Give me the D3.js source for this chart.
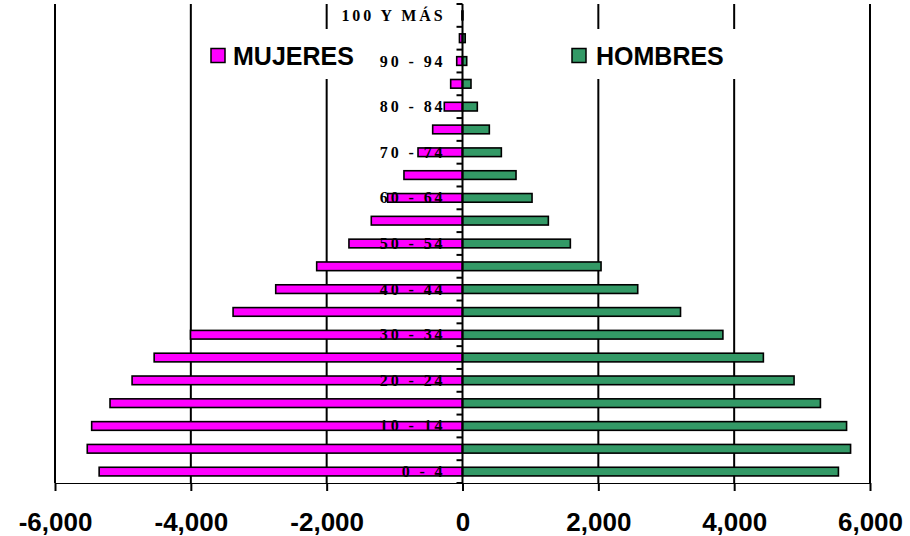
<!DOCTYPE html>
<html>
<head>
<meta charset="utf-8">
<script src="https://cdn.jsdelivr.net/npm/d3@7"></script>
<style>
  html, body { margin: 0; padding: 0; background: #fff; }
  svg { display: block; }
</style>
</head>
<body>
<svg id="chart" width="910" height="536"></svg>
<script>
// ---- data ----
const categories = ["0 - 4","5 - 9","10 - 14","15 - 19","20 - 24","25 - 29","30 - 34","35 - 39",
  "40 - 44","45 - 49","50 - 54","55 - 59","60 - 64","65 - 69","70 - 74","75 - 79","80 - 84",
  "85 - 89","90 - 94","95 - 99","100 Y MÁS"];
const mujeres = [5350, 5525, 5460, 5190, 4865, 4540, 4005, 3378, 2750, 2147, 1672, 1343, 1102,
  862, 655, 439, 268, 174, 85, 45, 8];
const hombres = [5535, 5714, 5655, 5270, 4882, 4430, 3834, 3210, 2580, 2040, 1588, 1264, 1024,
  788, 572, 395, 218, 125, 62, 40, 5];
const shownLabels = ["0 - 4","10 - 14","20 - 24","30 - 34","40 - 44","50 - 54","60 - 64",
  "70 - 74","80 - 84","90 - 94","100 Y MÁS"];
const xTicks = [-6000, -4000, -2000, 0, 2000, 4000, 6000];
const seriesNames = ["MUJERES", "HOMBRES"];
const seriesColors = ["#FF00FF", "#339966"];

// ---- layout ----
const svg = d3.select("#chart");
const pLeft = 55, pRight = 870, pTop = 4, pBottom = 483;

const x = d3.scaleLinear().domain([-6000, 6000]).range([pLeft, pRight]);
const y = d3.scaleBand().domain(categories.slice().reverse()).range([pTop, pBottom]).paddingInner(0.62).paddingOuter(0.31);
const yb = d3.scaleBand().domain(categories.slice().reverse()).range([pTop, pBottom]);

const fmt = d3.formatLocale({decimal: ".", thousands: ",", grouping: [3], currency: ["", ""], minus: "-"}).format(",");

// gridlines (vertical)
svg.append("g").selectAll("line").data(xTicks.filter(d => d !== 0)).join("line")
  .attr("x1", d => x(d)).attr("x2", d => x(d))
  .attr("y1", pTop).attr("y2", pBottom)
  .attr("stroke", "#000").attr("stroke-width", 2);

// legend white boxes (cover gridlines)
const legendBoxes = [
  {name: seriesNames[0], color: seriesColors[0], x0: 200, x1: 362, sx: 211, tx: 233},
  {name: seriesNames[1], color: seriesColors[1], x0: 565, x1: 742, sx: 572, tx: 596}
];
svg.append("g").selectAll("rect").data(legendBoxes).join("rect")
  .attr("x", d => d.x0).attr("y", 29).attr("width", d => d.x1 - d.x0).attr("height", 50)
  .attr("fill", "#fff");

// bottom axis
const xAxis = svg.append("g").attr("transform", `translate(0,${pBottom})`)
  .call(d3.axisBottom(x).tickValues(xTicks).tickFormat(fmt).tickSize(8).tickSizeOuter(0));
xAxis.select(".domain").attr("stroke", "#000").attr("stroke-width", 1.2);
xAxis.selectAll(".tick line").attr("stroke", "#000").attr("stroke-width", 2);
xAxis.selectAll(".tick text")
  .attr("y", 48).attr("dy", 0)
  .attr("font-family", "Liberation Sans, Arial, sans-serif")
  .attr("font-weight", "bold").attr("font-size", 26).attr("fill", "#000");

// bars
const barG = svg.append("g");
barG.selectAll("rect.m").data(categories).join("rect").attr("class", "m")
  .attr("x", (d, i) => x(-mujeres[i])).attr("width", (d, i) => x(0) - x(-mujeres[i]))
  .attr("y", d => y(d)).attr("height", y.bandwidth())
  .attr("fill", seriesColors[0]).attr("stroke", "#000").attr("stroke-width", 1.6);
barG.selectAll("rect.h").data(categories).join("rect").attr("class", "h")
  .attr("x", x(0)).attr("width", (d, i) => x(hombres[i]) - x(0))
  .attr("y", d => y(d)).attr("height", y.bandwidth())
  .attr("fill", seriesColors[1]).attr("stroke", "#000").attr("stroke-width", 1.6);

// vertical zero axis with left ticks at band boundaries
const zx = x(0);
svg.append("line").attr("x1", zx).attr("x2", zx).attr("y1", pTop).attr("y2", pBottom)
  .attr("stroke", "#000").attr("stroke-width", 2);
const bounds = categories.map(c => yb(c)).concat([pBottom]);
svg.append("g").selectAll("line").data(bounds).join("line")
  .attr("x1", zx - 6).attr("x2", zx).attr("y1", d => d).attr("y2", d => d)
  .attr("stroke", "#000").attr("stroke-width", 2);

// category labels
svg.append("g").selectAll("text").data(shownLabels).join("text")
  .attr("x", zx - 17)
  .attr("y", d => yb(d) + yb.bandwidth() / 2 + 5.5)
  .attr("text-anchor", "end")
  .attr("font-family", "Liberation Serif, Times New Roman, serif")
  .attr("font-weight", "bold").attr("font-size", 16)
  .attr("letter-spacing", "2.9px")
  .attr("fill", "#000")
  .text(d => d);

// legend
const lg = svg.append("g").selectAll("g").data(legendBoxes).join("g");
lg.append("rect").attr("x", d => d.sx).attr("y", 48.5).attr("width", 14).attr("height", 14)
  .attr("fill", d => d.color).attr("stroke", "#000").attr("stroke-width", 1.5);
lg.append("text").attr("x", d => d.tx).attr("y", 64.5)
  .attr("font-family", "Liberation Sans, Arial, sans-serif")
  .attr("font-weight", "bold").attr("font-size", 25).attr("fill", "#000")
  .text(d => d.name);
</script>
</body>
</html>
